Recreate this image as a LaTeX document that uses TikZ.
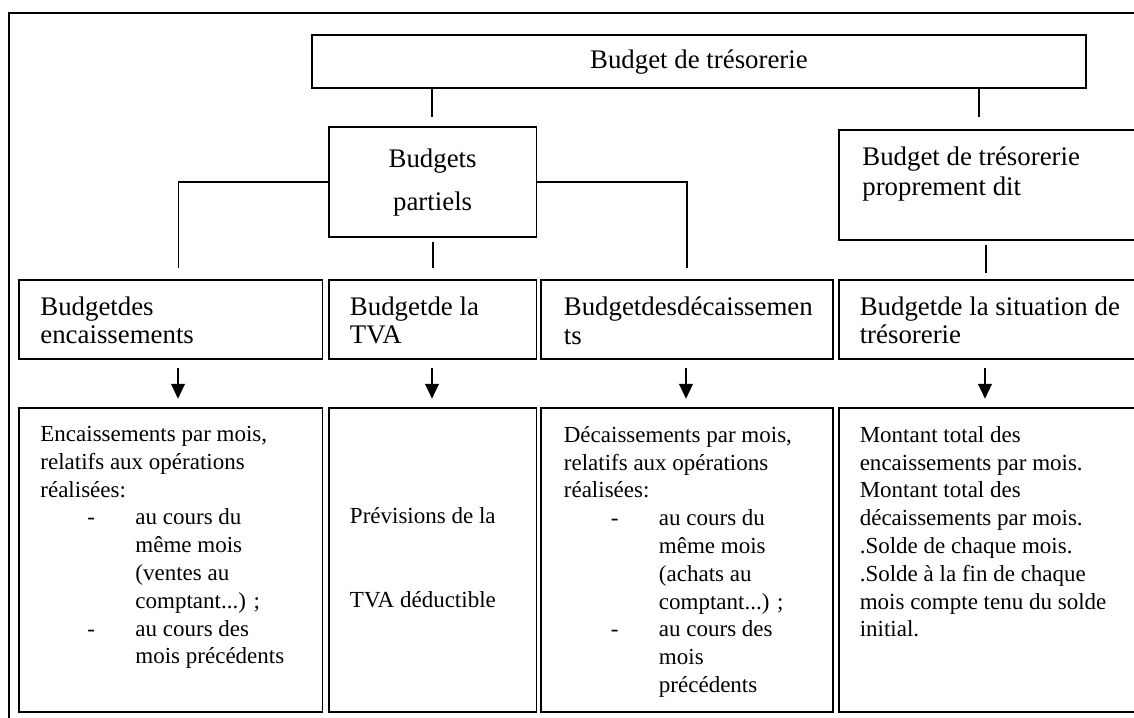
\documentclass[tikz,border=0pt]{standalone}
\usepackage{fontspec}
\setmainfont{Liberation Serif}
\usetikzlibrary{positioning}
\usetikzlibrary{arrows.meta}
\tikzset{
    cadre/.style = {draw=black, line width=0.9pt, inner sep=0pt, outer sep=0pt, anchor=north west},
    titre/.style = {cadre, align=center, font=\fontsize{14}{22.4}\selectfont},
    texteh/.style = {anchor=north west, inner sep=0pt, align=left, font=\fontsize{14}{14.76}\selectfont},
    texteb/.style = {anchor=north west, inner sep=0pt, align=left, font=\fontsize{12}{14.5}\selectfont},
    trait/.style = {-, line width=0.9pt, black},
    fleche/.style = {-{Triangle[length=7.8pt,width=7.2pt]}, line width=0.9pt, black},
    taille/.style 2 args = {minimum width=#1*0.5217pt, minimum height=#2*0.5217pt}
}
\newcommand{\tiret}{\makebox[49.6pt][l]{\hspace*{24.5pt}-}}
\newcommand{\retrait}{\makebox[49.6pt]{}}

\begin{document}
\begin{tikzpicture}[x=0.5217pt, y=-0.5217pt]
\useasboundingbox (0,0) rectangle (1134,718);
\clip (0,0) rectangle (1134,718);
% cadre
\draw[trait] (8.9,730) |- (1150,13.3);
%
\node[titre, taille={774.1}{53.3}] at (311.9,35) (tres) {Budget de trésorerie};
\node[titre, taille={207.5}{110}] at (328.9,127.3) (part) {Budgets\\partiels};
\node[cadre, taille={320}{110}] at (839,130) (prop) {};
\node[texteh, font=\fontsize{14}{15.65}\selectfont] at (862,146.7) (propt) {Budget de trésorerie\\proprement dit};
%
\node[cadre, taille={303.4}{79}] at (19.2,280) (enc) {};
\node[cadre, taille={207.5}{79}] at (328.9,280) (tva) {};
\node[cadre, taille={291.5}{79}] at (541.2,280) (dec) {};
\node[cadre, taille={320}{79}] at (839,280) (sit) {};
\node[texteh] at (40,296.7) (enct) {Budgetdes\\encaissements};
\node[texteh] at (349.6,296.7) (tvat) {Budgetde la\\TVA};
\node[texteh] at (563.5,296.7) (dect) {Budgetdesdécaissemen\\ts};
\node[texteh] at (859.4,296.7) (sitt) {Budgetde la situation de\\trésorerie};
%
\node[cadre, taille={303.4}{303.4}] at (19.2,408.3) (encb) {};
\node[cadre, taille={207.5}{303.4}] at (328.9,408.3) (tvab) {};
\node[cadre, taille={291.5}{303.4}] at (541.2,408.3) (decb) {};
\node[cadre, taille={320}{303.4}] at (839,408.3) (sitb) {};
\node[texteb] at (40,426) (encbt) {Encaissements par mois,\\relatifs aux opérations\\réalisées:\\\tiret au cours du\\\retrait même mois\\\retrait (ventes au\\\retrait comptant...) ;\\\tiret au cours des\\\retrait mois précédents};
\node[texteb] at (349.6,507.3) (tvabt) {Prévisions de la\\[29pt]TVA déductible};
\node[texteb] at (563.5,426) (decbt) {Décaissements par mois,\\relatifs aux opérations\\réalisées:\\\tiret au cours du\\\retrait même mois\\\retrait (achats au\\\retrait comptant...) ;\\\tiret au cours des\\\retrait mois\\\retrait précédents};
\node[texteb] at (859.4,426) (sitbt) {Montant total des\\encaissements par mois.\\Montant total des\\décaissements par mois.\\.Solde de chaque mois.\\.Solde à la fin de chaque\\mois compte tenu du solde\\initial.};
%
\coordinate (t1) at (431.7,116.7);
\coordinate (t2) at (979,116.7);
\coordinate (p1) at (178.5,268);
\coordinate (p2) at (432.7,268);
\coordinate (p3) at (687,268);
\coordinate (p4) at (985.7,272.7);
\coordinate (f1) at (178,0);
\coordinate (f2) at (432,0);
\coordinate (f3) at (686,0);
\coordinate (f4) at (985,0);
%
\draw[trait] (tres.south -| t1) -- (t1);
\draw[trait] (tres.south -| t2) -- (t2);
\draw[trait] (part.west) -| (p1);
\draw[trait] (part.east) -| (p3);
\draw[trait, shorten <=2.3pt] (part.south -| p2) -- (p2);
\draw[trait, shorten <=2.6pt] (prop.south -| p4) -- (p4);
%
\draw[fleche, shorten <=4.7pt, shorten >=5pt] (enc.south -| f1) -- (encb.north -| f1);
\draw[fleche, shorten <=4.7pt, shorten >=5pt] (tva.south -| f2) -- (tvab.north -| f2);
\draw[fleche, shorten <=4.7pt, shorten >=5pt] (dec.south -| f3) -- (decb.north -| f3);
\draw[fleche, shorten <=4.7pt, shorten >=5pt] (sit.south -| f4) -- (sitb.north -| f4);
\end{tikzpicture}
\end{document}
